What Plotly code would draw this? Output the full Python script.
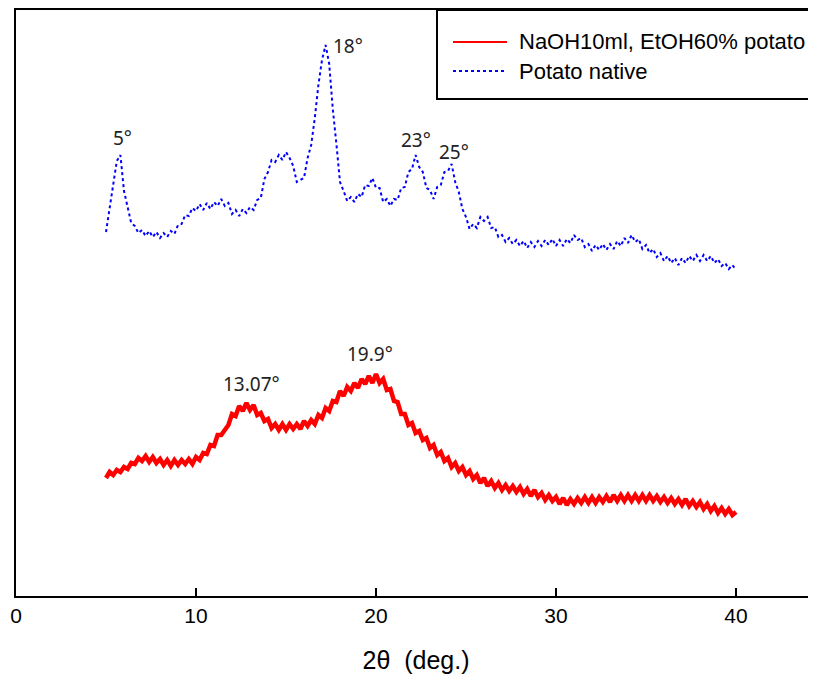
import numpy as np
import plotly.graph_objects as go

# 2-theta grid (deg.), 0.2 deg step from 5 to 40
two_theta_start = 5.0
two_theta_step = 0.2
two_theta = np.round(two_theta_start + two_theta_step * np.arange(176), 1)

# Intensity (a.u.), NaOH 10ml / EtOH 60% potato (lower, red)
naoh_etoh = [
    118, 124, 121, 126, 124, 129, 127, 133, 132, 138,
    135, 140, 134, 139, 133, 137, 131, 136, 130, 136,
    131, 136, 132, 137, 132, 139, 136, 143, 142, 151,
    150, 161, 161, 167, 171, 182, 180, 190, 185, 193,
    186, 191, 181, 183, 175, 177, 168, 172, 166, 172,
    166, 172, 167, 172, 167, 175, 170, 176, 172, 181,
    178, 188, 185, 195, 194, 205, 200, 209, 205, 213,
    208, 217, 212, 220, 213, 222, 213, 217, 206, 207,
    195, 194, 182, 182, 171, 173, 163, 165, 156, 158,
    148, 151, 141, 144, 135, 138, 129, 133, 125, 129,
    121, 125, 117, 121, 113, 118, 110, 115, 108, 113,
    106, 111, 105, 110, 104, 109, 102, 107, 100, 106,
    99, 103, 96, 101, 95, 99, 92, 98, 91, 97,
    92, 98, 93, 99, 93, 99, 93, 99, 94, 100,
    94, 101, 95, 101, 95, 101, 95, 101, 95, 101,
    95, 101, 95, 100, 94, 99, 93, 98, 92, 97,
    91, 97, 90, 95, 89, 94, 87, 92, 85, 90,
    83, 88, 82, 87, 81, 84,
]

# Intensity (a.u.), potato native (upper, blue dotted)
potato_native = [
    364, 389, 411, 435, 441, 405, 389, 373, 370, 363,
    366, 360, 365, 359, 364, 358, 363, 359, 365, 362,
    371, 372, 381, 380, 388, 385, 392, 386, 393, 387,
    394, 390, 397, 390, 393, 382, 386, 380, 387, 383,
    389, 386, 396, 398, 417, 424, 436, 434, 441, 436,
    444, 438, 430, 414, 416, 418, 438, 451, 478, 511,
    536, 551, 532, 487, 452, 414, 405, 395, 399, 394,
    402, 399, 411, 410, 418, 408, 408, 394, 397, 390,
    397, 396, 408, 409, 424, 427, 441, 429, 424, 408,
    406, 397, 409, 411, 424, 425, 432, 414, 404, 387,
    379, 367, 372, 368, 379, 375, 379, 368, 369, 359,
    361, 354, 358, 352, 356, 350, 355, 348, 354, 349,
    355, 350, 356, 351, 357, 350, 356, 350, 357, 353,
    361, 356, 358, 349, 352, 345, 351, 346, 352, 346,
    352, 347, 355, 350, 358, 353, 361, 354, 357, 347,
    351, 343, 347, 339, 343, 335, 340, 333, 338, 331,
    338, 333, 340, 335, 341, 335, 341, 335, 340, 333,
    337, 330, 333, 327, 331, 326,
]

series_names = ["NaOH10ml, EtOH60% potato", "Potato native"]
peak_labels = ["5°", "18°", "23°", "25°", "13.07°", "19.9°"]
x_ticks = [0, 10, 20, 30, 40]
x_title = "2θ  (deg.)"

fig = go.Figure()
fig.add_trace(go.Scatter(x=two_theta, y=naoh_etoh, mode="lines", name=series_names[0],
                         line=dict(color="#ff0000", width=4.5), showlegend=False))
fig.add_trace(go.Scatter(x=two_theta, y=potato_native, mode="lines", name=series_names[1],
                         line=dict(color="#0000ff", width=2, dash="dot"), showlegend=False))

# peak labels (anchor positions in data coords)
peak_pos = [(5.89, 458), (18.44, 550), (22.22, 456), (24.33, 444), (13.06, 212), (19.67, 242)]
for lab, (px, py) in zip(peak_labels, peak_pos):
    fig.add_annotation(x=px, y=py, text=lab, showarrow=False, xanchor="center", yanchor="middle",
                       font=dict(family="Noto Sans", size=19, color="#222222"))

# manual legend box (clipped at the right edge like the reference)
fig.add_shape(type="rect", xref="paper", yref="paper", x0=0.52625, x1=1.06, y0=0.8481, y1=1.0,
              line=dict(color="black", width=2), fillcolor="white", layer="above")
fig.add_shape(type="line", xref="paper", yref="paper", x0=0.54625, x1=0.61375, y0=0.9454, y1=0.9454,
              line=dict(color="#ff0000", width=2))
fig.add_shape(type="line", xref="paper", yref="paper", x0=0.54625, x1=0.61375, y0=0.8959, y1=0.8959,
              line=dict(color="#0000ff", width=2, dash="dot"))
fig.add_annotation(xref="paper", yref="paper", x=0.62625, y=0.9454, text=series_names[0],
                   showarrow=False, xanchor="left", yanchor="middle",
                   font=dict(family="Liberation Sans", size=22, color="black"))
fig.add_annotation(xref="paper", yref="paper", x=0.62625, y=0.8959, text=series_names[1],
                   showarrow=False, xanchor="left", yanchor="middle",
                   font=dict(family="Liberation Sans", size=22, color="black"))

# the page adds an 8px body margin, so the figure is offset by 8px and sized to avoid scrolling
fig.update_layout(
    width=808, height=666,
    margin=dict(l=8, r=0, t=2, b=78, autoexpand=False),
    paper_bgcolor="white", plot_bgcolor="white",
    xaxis=dict(range=[0, 800 / 18], tickmode="array", tickvals=x_ticks,
               ticktext=[str(t) for t in x_ticks],
               ticks="inside", ticklen=8, tickwidth=1.5, tickcolor="black",
               showline=True, linewidth=2, linecolor="black", mirror=True,
               showgrid=False, zeroline=False,
               tickfont=dict(family="Liberation Sans", size=21, color="black"),
               title=dict(text=x_title, standoff=27,
                          font=dict(family="Liberation Sans", size=25, color="black"))),
    yaxis=dict(range=[0, 586], showticklabels=False, ticks="",
               showline=True, linewidth=2, linecolor="black",
               showgrid=False, zeroline=False),
)

fig.write_html("out.html")
